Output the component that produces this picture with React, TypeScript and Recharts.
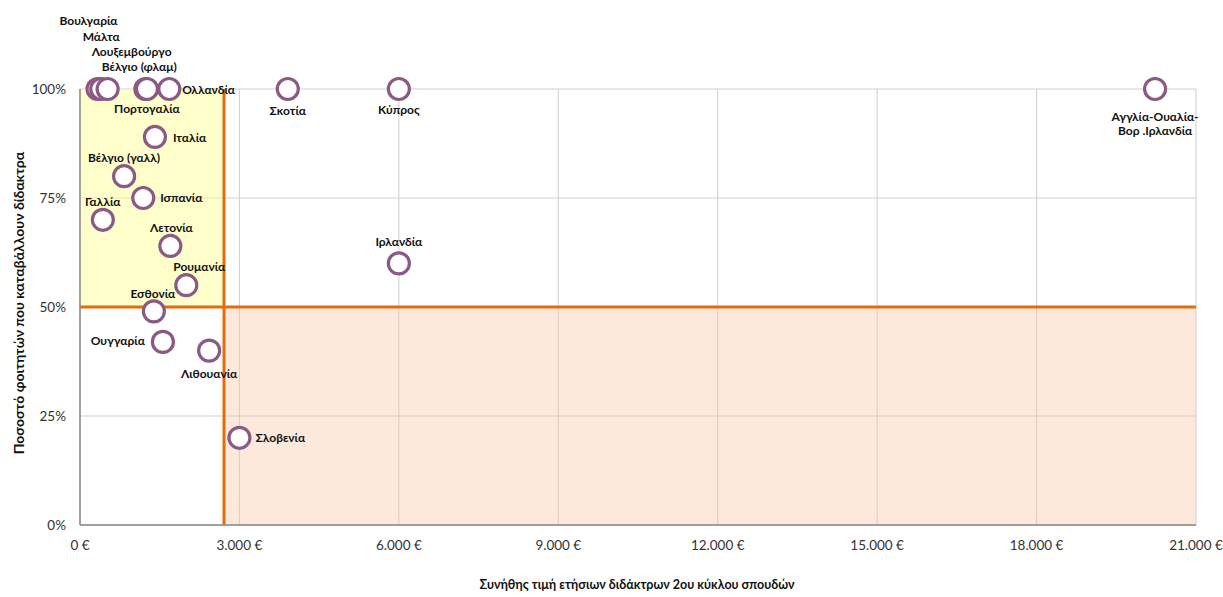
import React from 'react'
import {
  ScatterChart,
  Scatter,
  XAxis,
  YAxis,
  CartesianGrid,
  ReferenceLine,
  ReferenceArea,
  Label,
} from 'recharts'

// Χώρες / συστήματα
const countries = [
  'Βουλγαρία',
  'Μάλτα',
  'Λουξεμβούργο',
  'Βέλγιο (φλαμ)',
  'Πορτογαλία',
  'Ολλανδία',
  'Ιταλία',
  'Βέλγιο (γαλλ)',
  'Ισπανία',
  'Γαλλία',
  'Λετονία',
  'Ρουμανία',
  'Εσθονία',
  'Ουγγαρία',
  'Λιθουανία',
  'Σλοβενία',
  'Σκοτία',
  'Κύπρος',
  'Ιρλανδία',
  'Αγγλία-Ουαλία-Βορ .Ιρλανδία',
]

// Συνήθης τιμή ετήσιων διδάκτρων (€)
const tuition = [
  330, 400, 520, 1230, 1260, 1680, 1410, 830, 1190, 430,
  1700, 2000, 1390, 1560, 2430, 3000, 3910, 6000, 6000, 20230,
]

// Ποσοστό φοιτητών που καταβάλλουν δίδακτρα (%)
const sharePaying = [
  100, 100, 100, 100, 100, 100, 89, 80, 75, 70,
  64, 55, 49, 42, 40, 20, 100, 100, 60, 100,
]

const xTicks = [0, 3000, 6000, 9000, 12000, 15000, 18000, 21000]
const yTicks = [0, 25, 50, 75, 100]

const tuitionThreshold = 2710
const shareThreshold = 50

const data = countries.map((name, i) => ({
  name,
  tuition: tuition[i],
  share: sharePaying[i],
}))

// where each label sits relative to its marker
type Place = { dx: number; dy: number; anchor: 'start' | 'middle' | 'end' }
const labelPlace: Record<string, Place> = {
  'Βουλγαρία': { dx: -9, dy: -69, anchor: 'middle' },
  'Μάλτα': { dx: 0, dy: -53, anchor: 'middle' },
  'Λουξεμβούργο': { dx: 24, dy: -38, anchor: 'middle' },
  'Βέλγιο (φλαμ)': { dx: -6, dy: -23, anchor: 'middle' },
  'Πορτογαλία': { dx: 0, dy: 19, anchor: 'middle' },
  'Ολλανδία': { dx: 13, dy: 0, anchor: 'start' },
  'Ιταλία': { dx: 18, dy: 0, anchor: 'start' },
  'Βέλγιο (γαλλ)': { dx: 0, dy: -19, anchor: 'middle' },
  'Ισπανία': { dx: 17, dy: -1, anchor: 'start' },
  'Γαλλία': { dx: 0, dy: -19, anchor: 'middle' },
  'Λετονία': { dx: 1, dy: -19, anchor: 'middle' },
  'Ρουμανία': { dx: 13, dy: -19, anchor: 'middle' },
  'Εσθονία': { dx: -1, dy: -18, anchor: 'middle' },
  'Ουγγαρία': { dx: -18, dy: -2, anchor: 'end' },
  'Λιθουανία': { dx: 0, dy: 22, anchor: 'middle' },
  'Σλοβενία': { dx: 16, dy: -1, anchor: 'start' },
  'Σκοτία': { dx: 0, dy: 21, anchor: 'middle' },
  'Κύπρος': { dx: 0, dy: 20, anchor: 'middle' },
  'Ιρλανδία': { dx: 0, dy: -22, anchor: 'middle' },
  'Αγγλία-Ουαλία-Βορ .Ιρλανδία': { dx: 0, dy: 27, anchor: 'middle' },
}

const FONT = "Lato, 'Noto Sans', sans-serif"
const MARKER = '#8B5A84'
const ORANGE = '#E46C0A'

const euro = (v: number) =>
  `${String(v).replace(/\B(?=(\d{3})+(?!\d))/g, '.')} €`

const Marker = (props: any) => {
  const { cx, cy, payload } = props
  if (cx == null || cy == null) return null
  const place = labelPlace[payload.name] ?? { dx: 0, dy: -20, anchor: 'middle' }
  const lines =
    payload.name === 'Αγγλία-Ουαλία-Βορ .Ιρλανδία'
      ? ['Αγγλία-Ουαλία-', 'Βορ .Ιρλανδία']
      : [payload.name]
  return (
    <g>
      <circle cx={cx} cy={cy} r={10.5} fill="#fff" stroke={MARKER} strokeWidth={3.2} />
      <text
        x={cx + place.dx}
        y={cy + place.dy}
        textAnchor={place.anchor}
        dominantBaseline="central"
        fontFamily={FONT}
        fontWeight={700}
        fontSize={12}
        fill="#111"
      >
        {lines.map((l, i) => (
          <tspan key={l} x={cx + place.dx} dy={i === 0 ? 0 : 14}>
            {l}
          </tspan>
        ))}
      </text>
    </g>
  )
}

export default function App() {
  return (
    <div style={{ position: 'absolute', left: 0, top: 0, background: '#fff' }}>
      <ScatterChart
        width={1223}
        height={597}
        margin={{ top: 89, right: 27, bottom: 42, left: 0 }}
      >
        <ReferenceArea
          x1={0}
          x2={tuitionThreshold}
          y1={shareThreshold}
          y2={100}
          fill="#FFFF99"
          fillOpacity={0.5}
          stroke="none"
        />
        <ReferenceArea
          x1={tuitionThreshold}
          x2={21000}
          y1={0}
          y2={shareThreshold}
          fill="#F8C9A6"
          fillOpacity={0.4}
          stroke="none"
        />
        <CartesianGrid stroke="#cfcfcf" strokeWidth={1} />
        <XAxis
          type="number"
          dataKey="tuition"
          domain={[0, 21000]}
          ticks={xTicks}
          tickFormatter={euro}
          interval={0}
          height={30}
          tickSize={0}
          tickMargin={15}
          stroke="#888"
          strokeWidth={1.5}
          tick={{ fill: '#333', fontSize: 13.5, fontFamily: FONT }}
        >
          <Label
            content={({ viewBox }: any) => (
              <text
                x={viewBox.x + viewBox.width / 2 - 1}
                y={589}
                textAnchor="middle"
                fontFamily={FONT}
                fontWeight={700}
                fontSize={12.5}
                fill="#111"
              >
                Συνήθης τιμή ετήσιων διδάκτρων 2ου κύκλου σπουδών
              </text>
            )}
          />
        </XAxis>
        <YAxis
          type="number"
          dataKey="share"
          domain={[0, 100]}
          ticks={yTicks}
          tickFormatter={(v: number) => `${v}%`}
          width={80}
          tickSize={0}
          tickMargin={14}
          stroke="#888"
          strokeWidth={1.5}
          tick={{ fill: '#333', fontSize: 13.5, fontFamily: FONT }}
        >
          <Label
            content={({ viewBox }: any) => {
              const cy = viewBox.y + viewBox.height / 2 - 4
              return (
                <text
                  x={18}
                  y={cy}
                  transform={`rotate(-90 18 ${cy})`}
                  textAnchor="middle"
                  dominantBaseline="central"
                  fontFamily={FONT}
                  fontWeight={700}
                  fontSize={14}
                  fill="#111"
                >
                  Ποσοστό φοιτητών που καταβάλλουν δίδακτρα
                </text>
              )
            }}
          />
        </YAxis>
        <ReferenceLine x={tuitionThreshold} stroke={ORANGE} strokeWidth={3} />
        <ReferenceLine y={shareThreshold} stroke={ORANGE} strokeWidth={3} />
        <Scatter data={data} shape={Marker} isAnimationActive={false} />
      </ScatterChart>
    </div>
  )
}
